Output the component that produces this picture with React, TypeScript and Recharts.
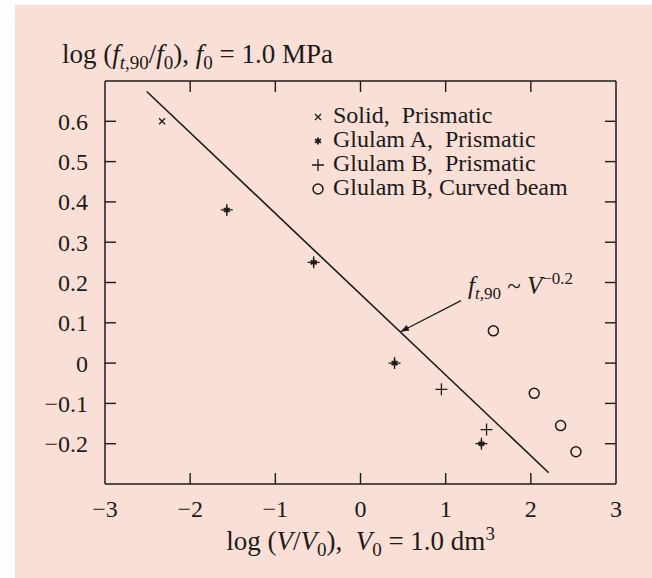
import React from "react";
import {
  ScatterChart,
  Scatter,
  XAxis,
  YAxis,
  ReferenceLine,
  Legend,
  Label,
} from "recharts";

const SERIF = '"Liberation Serif", "Times New Roman", serif';
const INK = "#1b1b1b";

// axis ticks
const xTicks = [-3, -2, -1, 0, 1, 2, 3];
const xInnerTicks = [-2, -1, 0, 1, 2];
const yTicks = [-0.2, -0.1, 0, 0.1, 0.2, 0.3, 0.4, 0.5, 0.6];

// test series: log(V/V0) against log(ft,90/f0)
const solidX = [-2.33];
const solidY = [0.6];
const glulamAX = [-1.57, -0.55, 0.4, 1.42];
const glulamAY = [0.38, 0.25, 0.0, -0.2];
const glulamBX = [-1.57, -0.55, 0.4, 0.95, 1.48, 1.42];
const glulamBY = [0.38, 0.25, 0.0, -0.065, -0.165, -0.2];
const curvedX = [1.56, 2.04, 2.35, 2.53];
const curvedY = [0.08, -0.075, -0.155, -0.22];

// size-effect line, ft,90 ~ V^-0.2
const trendX = [-2.51, 2.21];
const trendY = [0.674, -0.272];

// arrow of the line annotation: tail, then tip
const noteX = [1.18, 0.47];
const noteY = [0.155, 0.078];

const seriesNames = [
  "Solid,  Prismatic",
  "Glulam A,  Prismatic",
  "Glulam B,  Prismatic",
  "Glulam B, Curved beam",
];

const toPoints = (xs: number[], ys: number[]) => xs.map((x, i) => ({ x, y: ys[i] }));

const fmt = (v: number) => (v < 0 ? "\u2212" + Math.abs(v) : String(v));

const Cross = ({ cx, cy }: any) => (
  <path
    d={`M${cx - 3},${cy - 3}L${cx + 3},${cy + 3}M${cx + 3},${cy - 3}L${cx - 3},${cy + 3}`}
    stroke={INK}
    strokeWidth={1.3}
    fill="none"
  />
);

const Star = ({ cx, cy }: any) => (
  <path
    d={`M${cx},${cy - 3.5}L${cx},${cy + 3.5}M${cx - 3},${cy - 1.8}L${cx + 3},${cy + 1.8}M${cx - 3},${cy + 1.8}L${cx + 3},${cy - 1.8}`}
    stroke={INK}
    strokeWidth={1.8}
    fill="none"
  />
);

const Plus = ({ cx, cy }: any) => (
  <path
    d={`M${cx - 6},${cy}L${cx + 6},${cy}M${cx},${cy - 6}L${cx},${cy + 6}`}
    stroke={INK}
    strokeWidth={1.3}
    fill="none"
  />
);

const Ring = ({ cx, cy }: any) => (
  <circle cx={cx} cy={cy} r={5} stroke={INK} strokeWidth={1.5} fill="none" />
);

const markers = [Cross, Star, Plus, Ring];

const renderLegend = () => (
  <div style={{ fontFamily: SERIF, fontSize: 24, lineHeight: "24px", color: INK }}>
    {seriesNames.map((name, i) => {
      const Marker = markers[i];
      return (
        <div key={name} style={{ display: "flex", alignItems: "center", whiteSpace: "pre" }}>
          <svg width={18} height={20} style={{ marginRight: 6 }}>
            <Marker cx={9} cy={12} />
          </svg>
          <span>{name}</span>
        </div>
      );
    })}
  </div>
);

// inward tick marks on both ends of the box
const TICK = 11;
const XTickMarks = ({ x1, y1, y2 }: any) => {
  const top = Math.min(y1, y2);
  const bottom = Math.max(y1, y2);
  return (
    <g stroke={INK} strokeWidth={1.4}>
      <line x1={x1} x2={x1} y1={top} y2={top + TICK} />
      <line x1={x1} x2={x1} y1={bottom - TICK} y2={bottom} />
    </g>
  );
};
const YTickMarks = ({ x1, x2, y1 }: any) => {
  const left = Math.min(x1, x2);
  const right = Math.max(x1, x2);
  return (
    <g stroke={INK} strokeWidth={1.4}>
      <line x1={left} x2={left + TICK} y1={y1} y2={y1} />
      <line x1={right - TICK} x2={right} y1={y1} y2={y1} />
    </g>
  );
};

const sub = { fontSize: 19 } as const;

const TitleLabel = () => (
  <text x={62} y={63} fontFamily={SERIF} fontSize={27} fill={INK} style={{ whiteSpace: "pre" }}>
    <tspan>{"log ("}</tspan>
    <tspan fontStyle="italic">f</tspan>
    <tspan dy={6} {...sub} fontStyle="italic">t</tspan>
    <tspan {...sub}>,90</tspan>
    <tspan dy={-6}>/</tspan>
    <tspan fontStyle="italic">f</tspan>
    <tspan dy={6} {...sub}>0</tspan>
    <tspan dy={-6}>{"), "}</tspan>
    <tspan fontStyle="italic">f</tspan>
    <tspan dy={6} {...sub}>0</tspan>
    <tspan dy={-6}>{" = 1.0 MPa"}</tspan>
  </text>
);

const XTitle = ({ viewBox }: any) => {
  const cx = viewBox.x + viewBox.width / 2;
  return (
    <text x={cx} y={550} textAnchor="middle" fontFamily={SERIF} fontSize={27} fill={INK} style={{ whiteSpace: "pre" }}>
      <tspan>{"log ("}</tspan>
      <tspan fontStyle="italic">V</tspan>
      <tspan>/</tspan>
      <tspan fontStyle="italic">V</tspan>
      <tspan dy={6} {...sub}>0</tspan>
      <tspan dy={-6}>{"),  "}</tspan>
      <tspan fontStyle="italic">V</tspan>
      <tspan dy={6} {...sub}>0</tspan>
      <tspan dy={-6}>{" = 1.0 dm"}</tspan>
      <tspan dy={-10} {...sub}>3</tspan>
    </text>
  );
};

// arrow from the note text down to the line, plus the note itself
const NoteArrow = ({ x1, y1, x2, y2 }: any) => {
  const ang = Math.atan2(y2 - y1, x2 - x1);
  const len = 9;
  const spread = 0.35;
  const hx1 = x2 - len * Math.cos(ang - spread);
  const hy1 = y2 - len * Math.sin(ang - spread);
  const hx2 = x2 - len * Math.cos(ang + spread);
  const hy2 = y2 - len * Math.sin(ang + spread);
  return (
    <g>
      <line x1={x1} y1={y1} x2={x2} y2={y2} stroke={INK} strokeWidth={1.2} />
      <path d={`M${x2},${y2}L${hx1},${hy1}L${hx2},${hy2}Z`} fill={INK} />
      <text x={x1 + 7} y={y1 - 7} fontFamily={SERIF} fontSize={25} fill={INK} style={{ whiteSpace: "pre" }}>
        <tspan fontStyle="italic">f</tspan>
        <tspan dy={5} fontSize={17} fontStyle="italic">t</tspan>
        <tspan fontSize={17}>,90</tspan>
        <tspan dy={-5}>{" ~ "}</tspan>
        <tspan fontStyle="italic">V</tspan>
        <tspan dy={-10} fontSize={17}>{"\u22120.2"}</tspan>
      </text>
    </g>
  );
};

const tickStyle = { fill: INK, fontSize: 24, fontFamily: SERIF };

export default function App() {
  return (
    <div style={{ position: "absolute", left: 0, top: 0, width: 652, height: 578, background: "#ffffff" }}>
      <div style={{ position: "absolute", left: 15, top: 5, width: 637, height: 573, background: "#f9dfd5" }} />
      <div style={{ position: "absolute", left: 0, top: 0 }}>
        <ScatterChart width={652} height={578} margin={{ top: 80, right: 35, bottom: 34, left: 0 }}>
          <XAxis
            type="number"
            dataKey="x"
            domain={[-3, 3]}
            ticks={xTicks}
            tickFormatter={fmt}
            height={60}
            tickLine={false}
            tickMargin={10}
            stroke={INK}
            strokeWidth={1.5}
            tick={tickStyle}
            allowDataOverflow
          >
            <Label content={XTitle} />
          </XAxis>
          <XAxis
            xAxisId="top"
            orientation="top"
            type="number"
            domain={[-3, 3]}
            height={1}
            tickLine={false}
            tick={false}
            stroke={INK}
            strokeWidth={1.5}
            allowDataOverflow
          />
          <YAxis
            type="number"
            dataKey="y"
            domain={[-0.3, 0.7]}
            ticks={yTicks}
            tickFormatter={fmt}
            width={105}
            tickLine={false}
            tickMargin={11}
            stroke={INK}
            strokeWidth={1.5}
            tick={tickStyle}
            allowDataOverflow
          >
            <Label content={TitleLabel} />
          </YAxis>
          <YAxis
            yAxisId="right"
            orientation="right"
            type="number"
            domain={[-0.3, 0.7]}
            width={1}
            tickLine={false}
            tick={false}
            stroke={INK}
            strokeWidth={1.5}
            allowDataOverflow
          />
          {xInnerTicks.map((v) => (
            <ReferenceLine key={`xt${v}`} x={v} shape={XTickMarks} />
          ))}
          {yTicks.map((v) => (
            <ReferenceLine key={`yt${v}`} y={v} shape={YTickMarks} />
          ))}
          <ReferenceLine
            segment={toPoints(trendX, trendY)}
            stroke={INK}
            strokeWidth={1.6}
          />
          <ReferenceLine segment={toPoints(noteX, noteY)} shape={NoteArrow} />
          <Scatter name={seriesNames[0]} data={toPoints(solidX, solidY)} shape={Cross} isAnimationActive={false} />
          <Scatter name={seriesNames[1]} data={toPoints(glulamAX, glulamAY)} shape={Star} isAnimationActive={false} />
          <Scatter name={seriesNames[2]} data={toPoints(glulamBX, glulamBY)} shape={Plus} isAnimationActive={false} />
          <Scatter name={seriesNames[3]} data={toPoints(curvedX, curvedY)} shape={Ring} isAnimationActive={false} />
          <Legend
            layout="vertical"
            align="center"
            verticalAlign="middle"
            content={renderLegend}
            wrapperStyle={{ left: 309, top: 103, width: 300 }}
          />
        </ScatterChart>
      </div>
    </div>
  );
}
